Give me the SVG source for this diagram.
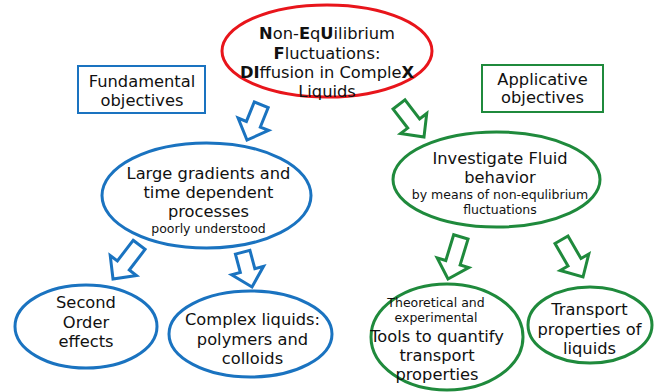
<svg xmlns="http://www.w3.org/2000/svg" width="663" height="392" viewBox="0 0 663 392">
<style>
text{font-family:"DejaVu Sans","Verdana",sans-serif;font-size:16.3px;fill:#111;text-anchor:middle}
.s{font-size:12.5px}
b,.b{font-weight:bold}
.blue{fill:#fff;stroke:#1a73c0;stroke-width:3}
.green{fill:#fff;stroke:#1f8a3c;stroke-width:3}
.red{fill:#fff;stroke:#e8151b;stroke-width:3}
.bbox{fill:#fff;stroke:#1a73c0;stroke-width:2}
.gbox{fill:#fff;stroke:#1f8a3c;stroke-width:2}
.ab{fill:#fff;stroke:#1a73c0;stroke-width:3;stroke-linejoin:miter}
.ag{fill:#fff;stroke:#1f8a3c;stroke-width:3;stroke-linejoin:miter}
</style>
<g id="connectors">
<path class="ab" transform="translate(247,140) rotate(22)" d="M-7.5,-38 H7.5 V-17 H16.5 L0,0 L-16.5,-17 H-7.5 Z"/>
<path class="ag" transform="translate(424,137) rotate(-37.5)" d="M-7.5,-41 H7.5 V-17 H16.5 L0,0 L-16.5,-17 H-7.5 Z"/>
<path class="ab" transform="translate(113,279) rotate(37.4)" d="M-7.5,-43 H7.5 V-17 H16.5 L0,0 L-16.5,-17 H-7.5 Z"/>
<path class="ab" transform="translate(252,287) rotate(-15)" d="M-7.5,-36 H7.5 V-17 H16.5 L0,0 L-16.5,-17 H-7.5 Z"/>
<path class="ag" transform="translate(448,279) rotate(17)" d="M-7.5,-44 H7.5 V-17 H16.5 L0,0 L-16.5,-17 H-7.5 Z"/>
<path class="ag" transform="translate(583,277) rotate(-30)" d="M-7.5,-43 H7.5 V-17 H16.5 L0,0 L-16.5,-17 H-7.5 Z"/>
</g>
<g id="main">
<ellipse class="red" cx="327" cy="51" rx="105" ry="46"/>
<text x="327" y="39"><tspan class="b">N</tspan>on-<tspan class="b">E</tspan>q<tspan class="b">U</tspan>ilibrium</text>
<text x="327" y="59"><tspan class="b">F</tspan>luctuations:</text>
<text x="327" y="78"><tspan class="b">DI</tspan>ffusion in Comple<tspan class="b">X</tspan></text>
<text x="327" y="97">Liquids</text>
</g>
<g id="fundamental">
<rect class="bbox" x="78" y="66" width="127" height="47"/>
<text x="142" y="87">Fundamental</text>
<text x="142" y="105.5">objectives</text>
</g>
<g id="applicative">
<rect class="gbox" x="482" y="65" width="121" height="47"/>
<text x="542.5" y="85">Applicative</text>
<text x="542.5" y="103">objectives</text>
</g>
<g id="large-gradients">
<ellipse class="blue" cx="206.5" cy="195.5" rx="104.5" ry="52.5"/>
<text x="208.5" y="179">Large gradients and</text>
<text x="208.5" y="198">time dependent</text>
<text x="208.5" y="217">processes</text>
<text class="s" x="208.5" y="233">poorly understood</text>
</g>
<g id="investigate">
<ellipse class="green" cx="496.5" cy="179.5" rx="103.5" ry="47.5"/>
<text x="500" y="164">Investigate Fluid</text>
<text x="500" y="183">behavior</text>
<text class="s" x="500" y="199">by means of non-equlibrium</text>
<text class="s" x="500" y="214">fluctuations</text>
</g>
<g id="second-order">
<ellipse class="blue" cx="86" cy="326.5" rx="71" ry="41.5"/>
<text x="86" y="308">Second</text>
<text x="86" y="328">Order</text>
<text x="86" y="347">effects</text>
</g>
<g id="complex-liquids">
<ellipse class="blue" cx="250.5" cy="334" rx="81.5" ry="43"/>
<text x="252.5" y="325">Complex liquids:</text>
<text x="252.5" y="345">polymers and</text>
<text x="252.5" y="364">colloids</text>
</g>
<g id="tools">
<ellipse class="green" cx="447" cy="337" rx="76" ry="53"/>
<text class="s" x="436" y="307">Theoretical and</text>
<text class="s" x="436" y="322">experimental</text>
<text x="437" y="342">Tools to quantify</text>
<text x="437" y="361">transport</text>
<text x="437" y="380">properties</text>
</g>
<g id="transport">
<ellipse class="green" cx="590" cy="325" rx="62" ry="38"/>
<text x="589.5" y="315">Transport</text>
<text x="589.5" y="335">properties of</text>
<text x="589.5" y="354">liquids</text>
</g>
</svg>
